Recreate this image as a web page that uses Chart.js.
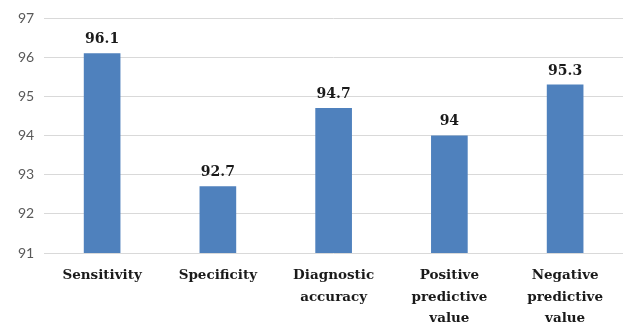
<!DOCTYPE html>
<html>
<head>
<meta charset="utf-8">
<script src="https://cdn.jsdelivr.net/npm/chart.js@4.4.1/dist/chart.umd.min.js"></script>
<style>
  html, body { margin: 0; padding: 0; background: #fff; }
  #wrap { width: 623px; height: 325px; }
</style>
</head>
<body>
<div id="wrap"><canvas id="myChart"></canvas></div>
<script>
  var categories = [
    ["Sensitivity"],
    ["Specificity"],
    ["Diagnostic", "accuracy"],
    ["Positive", "predictive", "value"],
    ["Negative", "predictive", "value"]
  ];
  var values = [96.1, 92.7, 94.7, 94, 95.3];
  var yTicks = [91, 92, 93, 94, 95, 96, 97];

  // draws the value above each bar
  var valueLabels = {
    id: 'valueLabels',
    afterDatasetsDraw: function (chart) {
      var ctx = chart.ctx;
      var meta = chart.getDatasetMeta(0);
      ctx.save();
      ctx.font = 'bold 14px "DejaVu Serif"';
      ctx.fillStyle = '#1a1a1a';
      ctx.textAlign = 'center';
      ctx.textBaseline = 'bottom';
      meta.data.forEach(function (bar, i) {
        ctx.fillText(String(values[i]), bar.x, bar.y - 7);
      });
      ctx.restore();
    }
  };

  var barChart = new Chart("myChart", {
    type: "bar",
    data: {
      labels: categories,
      datasets: [{
        data: values,
        backgroundColor: '#4f81bd',
        borderWidth: 0,
        barThickness: 36
      }]
    },
    options: {
      responsive: true,
      maintainAspectRatio: false,
      animation: false,
      layout: { padding: { top: 3, right: 0, left: 8, bottom: -8 } },
      plugins: {
        legend: { display: false },
        tooltip: { enabled: false }
      },
      scales: {
        x: {
          grid: { display: false },
          border: { display: false },
          ticks: {
            color: '#1a1a1a',
            font: { family: '"DejaVu Serif"', size: 13.5, weight: 'bold', lineHeight: 1.58 },
            padding: 4,
            maxRotation: 0
          }
        },
        y: {
          min: yTicks[0],
          max: yTicks[yTicks.length - 1],
          afterBuildTicks: function (axis) {
            axis.ticks = yTicks.map(function (v) { return { value: v }; });
          },
          grid: { color: '#d9d9d9', lineWidth: 1, drawTicks: false },
          border: { display: false },
          ticks: {
            color: '#595959',
            font: { family: 'Lato', size: 14 },
            padding: 10
          }
        }
      }
    },
    plugins: [valueLabels]
  });
</script>
</body>
</html>
